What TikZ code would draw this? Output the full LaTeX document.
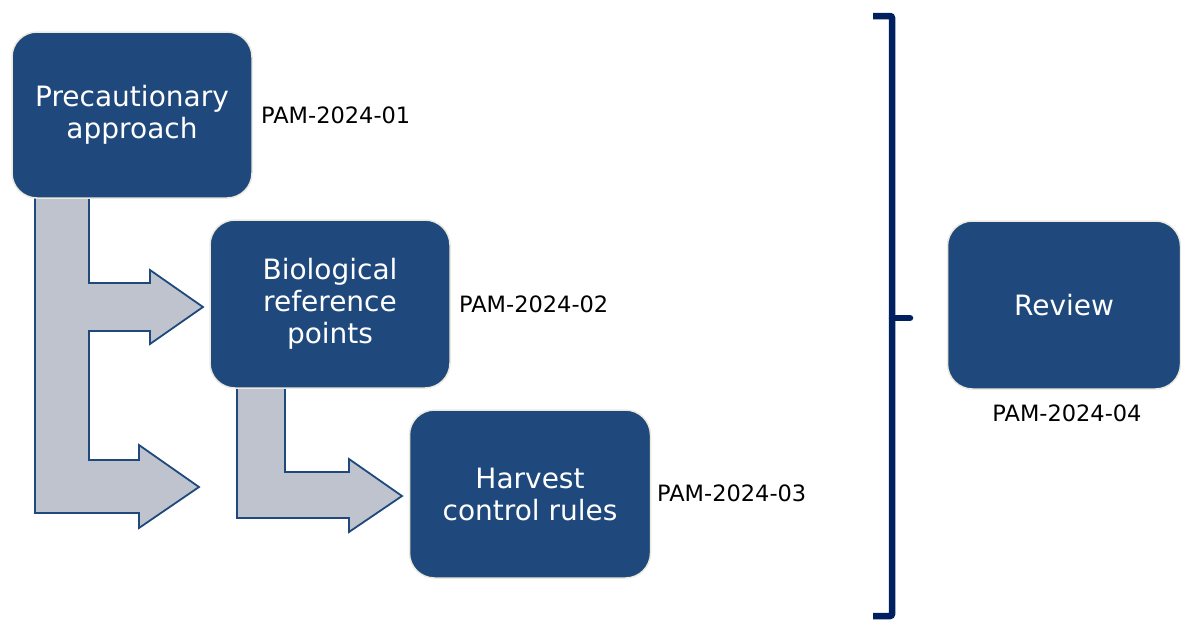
\documentclass[tikz,border=0pt]{standalone}
\usepackage{fontspec}
\setmainfont{DejaVu Sans}
\definecolor{boxblue}{RGB}{31,73,125}
\definecolor{boxedge}{RGB}{236,234,222}
\definecolor{arrowfill}{RGB}{190,195,206}
\definecolor{navy}{RGB}{0,32,96}
\tikzset{
  stepbox/.style={draw=boxedge, line width=1.5pt, fill=boxblue, rounded corners=25pt,
    text=white, align=center, font=\fontsize{28}{32}\selectfont, inner sep=0pt},
  pamlabel/.style={font=\fontsize{22.5}{26}\selectfont, text=black, inner sep=0pt},
  blockarrow/.style={draw=boxblue, line width=1.8pt, fill=arrowfill, line join=miter},
  bracket/.style={draw=navy, line width=6.5pt, rounded corners=2pt}
}
\begin{document}
\begin{tikzpicture}[x=1pt,y=-1pt]
\useasboundingbox (0,0) rectangle (1181,619);
% block arrows (behind the boxes)
\draw[blockarrow] (35,190) -- (35,513) -- (139,513) -- (139,528) -- (199,487) -- (139,445) -- (139,460)
  -- (89,460) -- (89,331) -- (150,331) -- (150,344) -- (203,307) -- (150,270) -- (150,283)
  -- (89,283) -- (89,190) -- cycle;
\draw[blockarrow] (237,380) -- (237,518) -- (349,518) -- (349,532) -- (402,496) -- (349,459) -- (349,472)
  -- (285,472) -- (285,380) -- cycle;
% boxes
\node[stepbox, minimum width=240pt, minimum height=166pt] (pa) at (132,115) {Precautionary\\approach};
\node[stepbox, minimum width=240pt, minimum height=168pt] (brp) at (330,304) {Biological\\reference\\points};
\node[stepbox, minimum width=241pt, minimum height=168pt] (hcr) at (530,494) {Harvest\\control rules};
\node[stepbox, minimum width=233pt, minimum height=168pt] (rev) at (1064,305) {Review};
% labels
\node[pamlabel, anchor=west] (l1) at (261,115) {PAM-2024-01};
\node[pamlabel, anchor=west] (l2) at (459,304) {PAM-2024-02};
\node[pamlabel, anchor=west] (l3) at (657,493) {PAM-2024-03};
\node[pamlabel] (l4) at (1067,413) {PAM-2024-04};
% bracket
\draw[bracket] (873,16) -- (892,16) -- (892,616) -- (873,616);
\draw[draw=navy, line width=6.5pt, line cap=round] (892,318) -- (910,318);
\end{tikzpicture}
\end{document}
